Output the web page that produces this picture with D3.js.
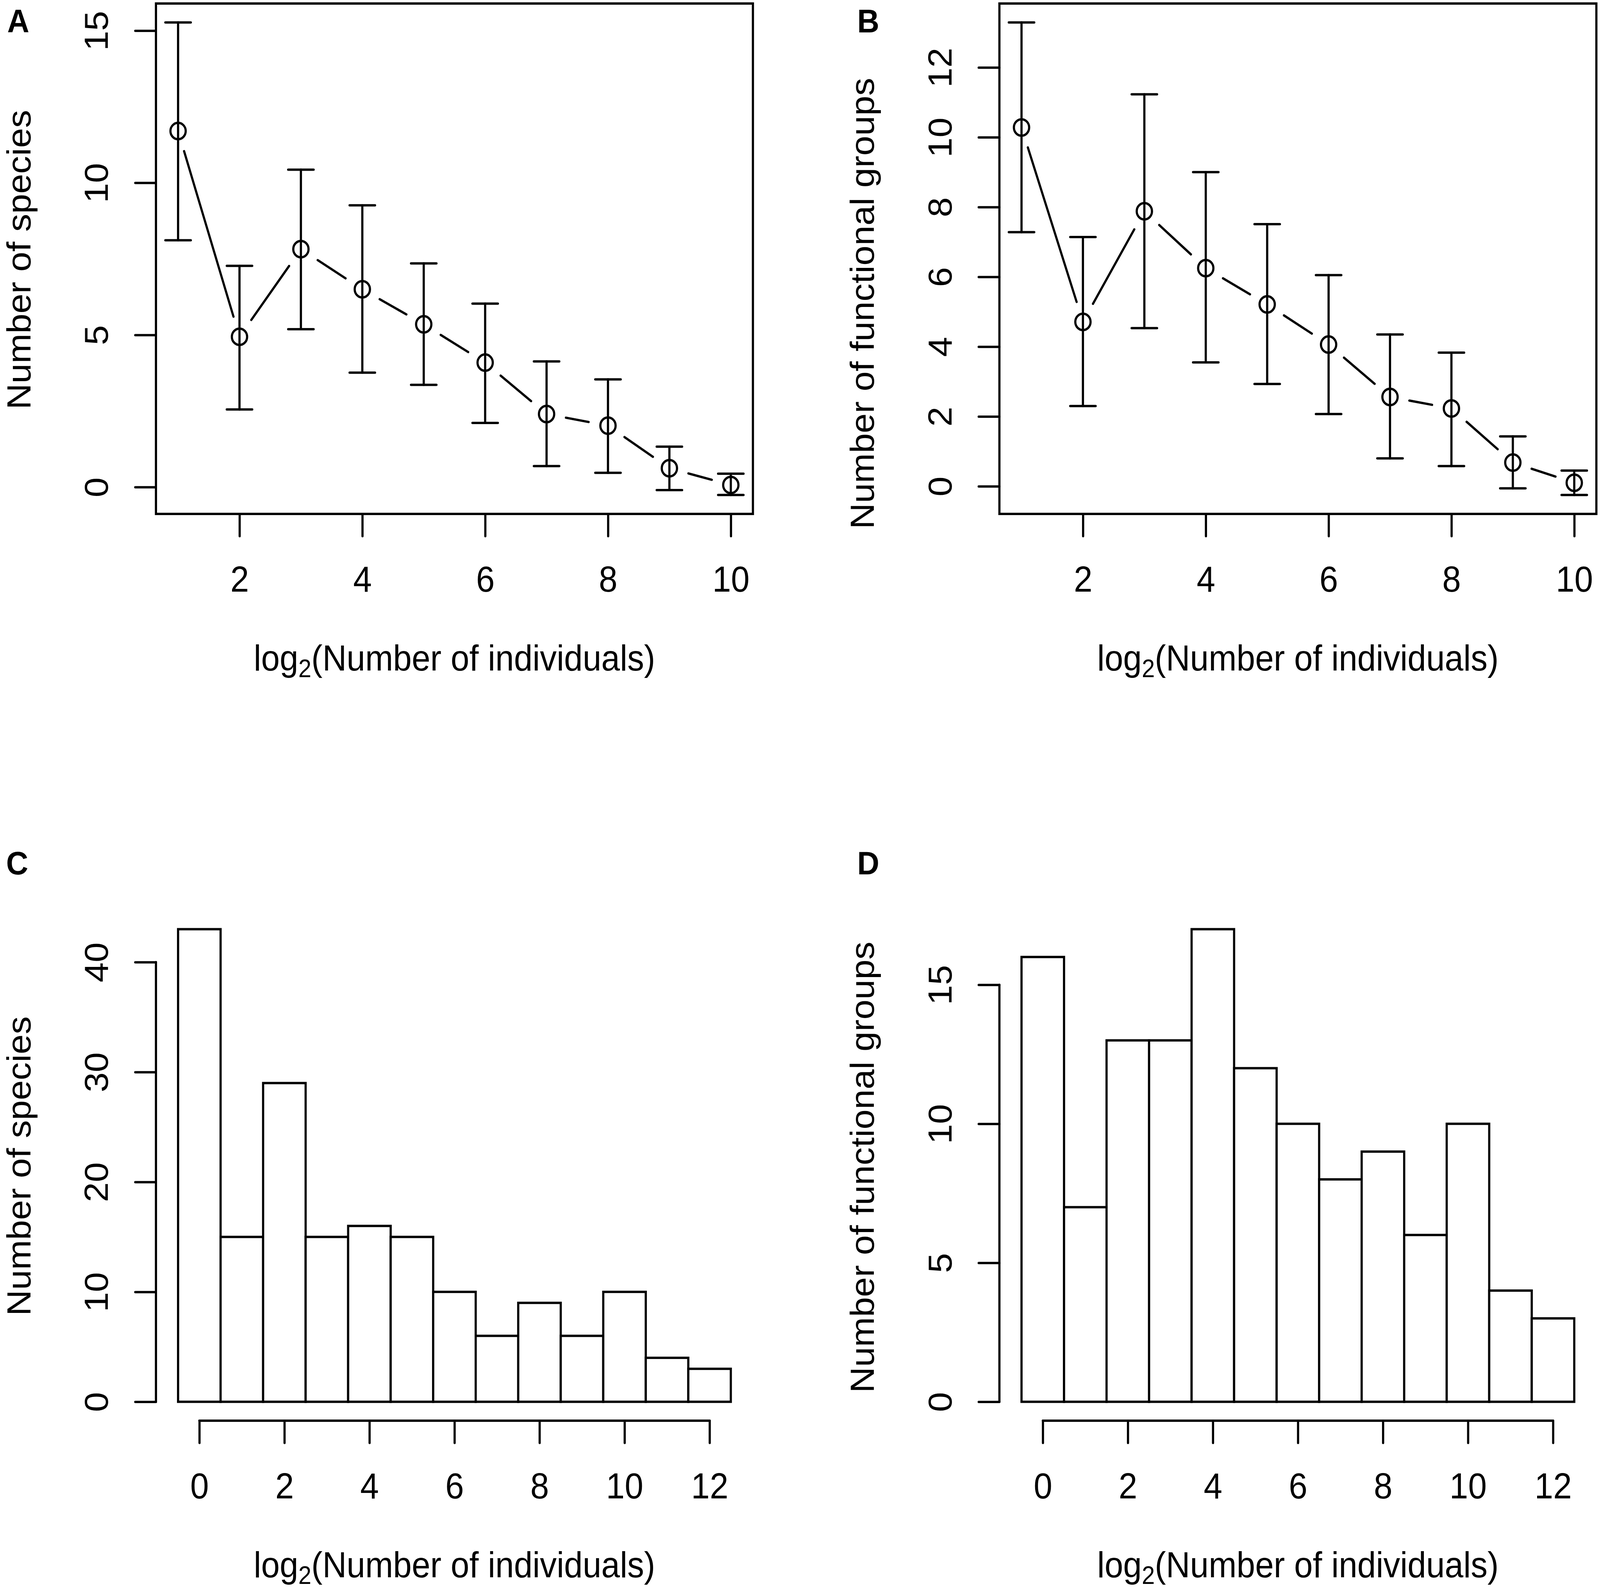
<!DOCTYPE html>
<html>
<head>
<meta charset="utf-8">
<script src="https://cdn.jsdelivr.net/npm/d3@7"></script>
<style>
  html, body { margin: 0; padding: 0; background: #fff; overflow: hidden; }
  svg { display: block; width: 100vw; height: 100vh; }
</style>
</head>
<body>
<div id="chart"></div>
<script>

// ---- data ----
const X_VALUES = [1, 2, 3, 4, 5, 6, 7, 8, 9, 10];

const SPECIES_MEAN  = [11.70, 4.94, 7.82, 6.50, 5.35, 4.09, 2.40, 2.02, 0.62, 0.07];
const SPECIES_UPPER = [15.27, 7.27, 10.43, 9.26, 7.35, 6.03, 4.13, 3.54, 1.33, 0.44];
const SPECIES_LOWER = [8.11, 2.55, 5.19, 3.76, 3.36, 2.11, 0.69, 0.47, -0.10, -0.26];

const GROUPS_MEAN  = [10.28, 4.71, 7.88, 6.25, 5.21, 4.06, 2.56, 2.23, 0.68, 0.10];
const GROUPS_UPPER = [13.29, 7.14, 11.23, 9.00, 7.51, 6.05, 4.35, 3.83, 1.43, 0.45];
const GROUPS_LOWER = [7.28, 2.30, 4.53, 3.55, 2.93, 2.07, 0.80, 0.58, -0.06, -0.25];

const BIN_MIDS = [0, 1, 2, 3, 4, 5, 6, 7, 8, 9, 10, 11, 12];
const SPECIES_COUNTS = [43, 15, 29, 15, 16, 15, 10, 6, 9, 6, 10, 4, 3];
const GROUPS_COUNTS  = [16, 7, 13, 13, 17, 12, 10, 8, 9, 6, 10, 4, 3];

const LINE_X_TICKS = [2, 4, 6, 8, 10];
const SPECIES_Y_TICKS = [0, 5, 10, 15];
const GROUPS_Y_TICKS = [0, 2, 4, 6, 8, 10, 12];
const HIST_X_TICKS = [0, 2, 4, 6, 8, 10, 12];
const SPECIES_COUNT_TICKS = [0, 10, 20, 30, 40];
const GROUPS_COUNT_TICKS = [0, 5, 10, 15];

const X_TITLE = "Number of individuals";
const TITLE_SPECIES = "Number of species";
const TITLE_GROUPS = "Number of functional groups";

// ---- layout ----
const WIDTH = 4401;
const HEIGHT = 4069;
const PANEL_DX = 2320;
const PANEL_DY = 2322;
const PLOT = { left: 429, right: 2071, top: 9, bottom: 1316 };
const TICK_LEN = 57;
const STROKE = 6;
const FONT = "'Liberation Sans', Arial, Helvetica, sans-serif";
const FONT_SIZE = 92;
const X_LABEL_Y = 199;      // tick label baseline below the axis
const Y_LABEL_X = 132;      // rotated tick label baseline left of the axis
const X_TITLE_Y = 1717;
const Y_TITLE_X = 84;
const POINT_R = 21;
const CAP_HALF = 35;
const LINE_GAP = 54;

// the drawing is stretched to fill whatever window it gets
const svg = d3.select("#chart").append("svg")
	.attr("viewBox", `0 0 ${WIDTH} ${HEIGHT}`)
	.attr("preserveAspectRatio", "none");

svg.append("rect").attr("width", WIDTH).attr("height", HEIGHT).attr("fill", "#fff");

// R pads the data range by 4% on each side
function rRange (lo, hi) {
	const pad = (hi - lo) * 0.04;
	return [lo - pad, hi + pad];
}

function styleAxis (g) {
	g.attr("font-family", FONT).attr("font-size", FONT_SIZE);
	g.selectAll(".tick line")
		.attr("stroke", "#000")
		.attr("stroke-width", STROKE)
		.attr("stroke-linecap", "round");
	g.selectAll(".tick text").attr("fill", "#000");
}

function bottomAxis (g, x, ticks, withDomain) {
	const ax = g.append("g")
		.attr("transform", `translate(0,${PLOT.bottom})`)
		.call(d3.axisBottom(x).tickValues(ticks).tickSize(TICK_LEN).tickSizeOuter(0));
	ax.select(".domain").remove();
	ax.selectAll(".tick text").attr("y", X_LABEL_Y).attr("dy", null);
	styleAxis(ax);
	if (withDomain) {
		ax.append("line")
			.attr("x1", x(ticks[0])).attr("x2", x(ticks[ticks.length - 1]))
			.attr("stroke", "#000").attr("stroke-width", STROKE).attr("stroke-linecap", "round");
	}
}

function leftAxis (g, y, ticks, withDomain) {
	const ax = g.append("g")
		.attr("transform", `translate(${PLOT.left},0)`)
		.call(d3.axisLeft(y).tickValues(ticks).tickSize(TICK_LEN).tickSizeOuter(0));
	ax.select(".domain").remove();
	ax.selectAll(".tick text")
		.attr("transform", "rotate(-90)")
		.attr("x", 0)
		.attr("y", -Y_LABEL_X)
		.attr("dy", null)
		.attr("text-anchor", "middle");
	styleAxis(ax);
	if (withDomain) {
		ax.append("line")
			.attr("y1", y(ticks[0])).attr("y2", y(ticks[ticks.length - 1]))
			.attr("stroke", "#000").attr("stroke-width", STROKE).attr("stroke-linecap", "round");
	}
}

function titles (g, yTitle, yTitleCenter) {
	const xt = g.append("text")
		.attr("x", (PLOT.left + PLOT.right) / 2)
		.attr("y", X_TITLE_Y)
		.attr("text-anchor", "middle")
		.attr("font-family", FONT)
		.attr("font-size", FONT_SIZE);
	xt.append("tspan").text("log");
	xt.append("tspan").attr("font-size", FONT_SIZE * 0.7).attr("dy", 17).text("2");
	xt.append("tspan").attr("dy", -17).text("(" + X_TITLE + ")");

	g.append("text")
		.attr("transform", `translate(${Y_TITLE_X},${yTitleCenter}) rotate(-90)`)
		.attr("text-anchor", "middle")
		.attr("font-family", FONT)
		.attr("font-size", FONT_SIZE)
		.text(yTitle);
}

function linePanel (g, mean, upper, lower, yTicks, yTitle, yTitleCenter) {
	const x = d3.scaleLinear()
		.domain(rRange(d3.min(X_VALUES), d3.max(X_VALUES)))
		.range([PLOT.left, PLOT.right]);
	const y = d3.scaleLinear()
		.domain(rRange(d3.min(lower), d3.max(upper)))
		.range([PLOT.bottom, PLOT.top]);

	const pts = X_VALUES.map((v, i) => ({ x: v, m: mean[i], hi: upper[i], lo: lower[i] }));

	// type = "b": segments stop short of each point
	const segs = [];
	for (let i = 0; i < pts.length - 1; i++) {
		const x1 = x(pts[i].x), y1 = y(pts[i].m);
		const x2 = x(pts[i + 1].x), y2 = y(pts[i + 1].m);
		const len = Math.hypot(x2 - x1, y2 - y1);
		if (len <= 2 * LINE_GAP) continue;
		const ux = (x2 - x1) / len, uy = (y2 - y1) / len;
		segs.push([x1 + ux * LINE_GAP, y1 + uy * LINE_GAP, x2 - ux * LINE_GAP, y2 - uy * LINE_GAP]);
	}
	g.append("g").selectAll("line").data(segs).enter().append("line")
		.attr("x1", d => d[0]).attr("y1", d => d[1])
		.attr("x2", d => d[2]).attr("y2", d => d[3])
		.attr("stroke", "#000").attr("stroke-width", STROKE).attr("stroke-linecap", "round");

	const bars = g.append("g").selectAll("g").data(pts).enter().append("g")
		.attr("stroke", "#000").attr("stroke-width", STROKE).attr("stroke-linecap", "round");
	bars.append("line")
		.attr("x1", d => x(d.x)).attr("x2", d => x(d.x))
		.attr("y1", d => y(d.lo)).attr("y2", d => y(d.hi));
	bars.append("line")
		.attr("x1", d => x(d.x) - CAP_HALF).attr("x2", d => x(d.x) + CAP_HALF)
		.attr("y1", d => y(d.hi)).attr("y2", d => y(d.hi));
	bars.append("line")
		.attr("x1", d => x(d.x) - CAP_HALF).attr("x2", d => x(d.x) + CAP_HALF)
		.attr("y1", d => y(d.lo)).attr("y2", d => y(d.lo));
	bars.append("circle")
		.attr("cx", d => x(d.x)).attr("cy", d => y(d.m))
		.attr("r", POINT_R).attr("fill", "none");

	g.append("rect")
		.attr("x", PLOT.left).attr("y", PLOT.top)
		.attr("width", PLOT.right - PLOT.left).attr("height", PLOT.bottom - PLOT.top)
		.attr("fill", "none").attr("stroke", "#000").attr("stroke-width", STROKE);

	bottomAxis(g, x, LINE_X_TICKS, false);
	leftAxis(g, y, yTicks, false);
	titles(g, yTitle, yTitleCenter);
}

function histPanel (g, counts, yTicks, yTitle, yTitleCenter) {
	const x = d3.scaleLinear()
		.domain(rRange(d3.min(BIN_MIDS) - 0.5, d3.max(BIN_MIDS) + 0.5))
		.range([PLOT.left, PLOT.right]);
	const y = d3.scaleLinear()
		.domain(rRange(0, d3.max(counts)))
		.range([PLOT.bottom, PLOT.top]);

	g.append("g").selectAll("rect")
		.data(BIN_MIDS.map((b, i) => ({ b: b, n: counts[i] })))
		.enter().append("rect")
		.attr("x", d => x(d.b - 0.5))
		.attr("width", d => x(d.b + 0.5) - x(d.b - 0.5))
		.attr("y", d => y(d.n))
		.attr("height", d => y(0) - y(d.n))
		.attr("fill", "#fff")
		.attr("stroke", "#000")
		.attr("stroke-width", STROKE);

	bottomAxis(g, x, HIST_X_TICKS, true);
	leftAxis(g, y, yTicks, true);
	titles(g, yTitle, yTitleCenter);
}

const panels = [
	{ id: "A", dx: 0, dy: 0 },
	{ id: "B", dx: PANEL_DX, dy: 0 },
	{ id: "C", dx: 0, dy: PANEL_DY },
	{ id: "D", dx: PANEL_DX, dy: PANEL_DY }
];
const groups = {};
panels.forEach(p => {
	groups[p.id] = svg.append("g").attr("transform", `translate(${p.dx},${p.dy})`);
});

linePanel(groups.A, SPECIES_MEAN, SPECIES_UPPER, SPECIES_LOWER, SPECIES_Y_TICKS, TITLE_SPECIES, 665);
linePanel(groups.B, GROUPS_MEAN, GROUPS_UPPER, GROUPS_LOWER, GROUPS_Y_TICKS, TITLE_GROUPS, 777);
histPanel(groups.C, SPECIES_COUNTS, SPECIES_COUNT_TICKS, TITLE_SPECIES, 664);
histPanel(groups.D, GROUPS_COUNTS, GROUPS_COUNT_TICKS, TITLE_GROUPS, 667);

// panel letters
const LETTERS = [
	{ t: "A", x: 20, y: 83 },
	{ t: "B", x: 2358, y: 83 },
	{ t: "C", x: 17, y: 2239 },
	{ t: "D", x: 2358, y: 2239 }
];
svg.selectAll(".letter").data(LETTERS).enter().append("text")
	.attr("class", "letter")
	.attr("x", d => d.x).attr("y", d => d.y)
	.attr("font-family", FONT)
	.attr("font-weight", "bold")
	.attr("font-size", 84)
	.text(d => d.t);

</script>
</body>
</html>
